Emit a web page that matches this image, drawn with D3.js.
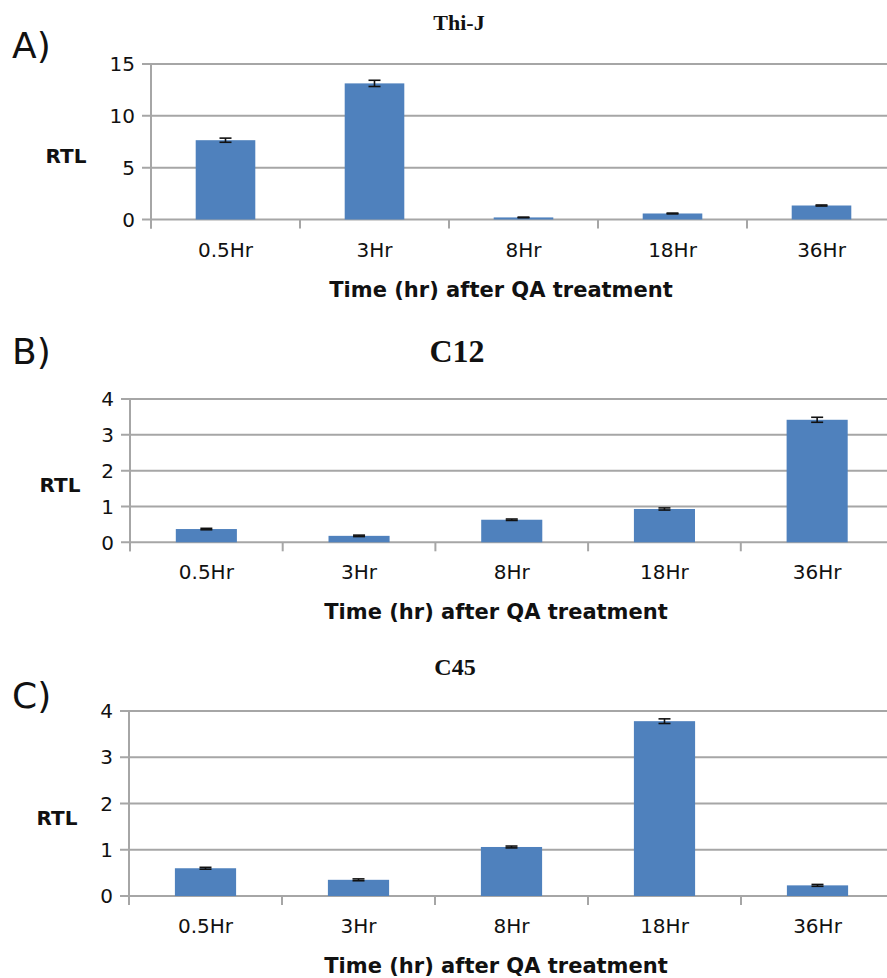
<!DOCTYPE html>
<html lang="en">
<head>
    <meta charset="UTF-8">
    <title>RTL after QA treatment</title>
    <script src="https://d3js.org/d3.v7.min.js"></script>
    <style>
        body { margin: 0; background: #fff; }
        svg { display: block; }
        .tick-label { font-family: "DejaVu Sans", sans-serif; font-size: 20px; fill: #111; }
        .axis-title { font-family: "DejaVu Sans", sans-serif; font-weight: bold; font-size: 21px; fill: #111; }
        .panel-label { font-family: "DejaVu Sans", sans-serif; font-size: 36px; fill: #111; }
        .chart-title { font-family: "Liberation Serif", "Times New Roman", serif; font-weight: bold; fill: #111; }
    </style>
</head>
<body>
    <svg width="887" height="978"></svg>
    <script>
        const categories = ['0.5Hr', '3Hr', '8Hr', '18Hr', '36Hr'];

        const thijValues = [7.65, 13.13, 0.2, 0.58, 1.35];
        const thijErrors = [0.2, 0.3, 0.03, 0.04, 0.05];
        const thijTicks = [0, 5, 10, 15];

        const c12Values = [0.37, 0.18, 0.63, 0.93, 3.42];
        const c12Errors = [0.02, 0.02, 0.02, 0.03, 0.07];
        const c12Ticks = [0, 1, 2, 3, 4];

        const c45Values = [0.6, 0.35, 1.06, 3.78, 0.23];
        const c45Errors = [0.02, 0.02, 0.02, 0.05, 0.02];
        const c45Ticks = [0, 1, 2, 3, 4];

        const xTitle = 'Time (hr) after QA treatment';

        const panels = [
            { label: 'A)', labelY: 58, title: 'Thi-J', titleSize: 22, titleX: 459, titleY: 30,
              values: thijValues, errors: thijErrors, ticks: thijTicks,
              left: 151, right: 896, top: 64, bottom: 219.5,
              rtlX: 66, rtlY: 163, xTitleX: 501 },
            { label: 'B)', labelY: 364, title: 'C12', titleSize: 32, titleX: 457, titleY: 362,
              values: c12Values, errors: c12Errors, ticks: c12Ticks,
              left: 130, right: 893.5, top: 399, bottom: 542.3,
              rtlX: 60, rtlY: 492, xTitleX: 496 },
            { label: 'C)', labelY: 708, title: 'C45', titleSize: 24, titleX: 455, titleY: 675,
              values: c45Values, errors: c45Errors, ticks: c45Ticks,
              left: 129, right: 894, top: 711, bottom: 896,
              rtlX: 57, rtlY: 825, xTitleX: 496 }
        ];

        const svg = d3.select("svg");
        const gridColor = "#a6a6a6";
        const barColor = "#4f81bd";

        panels.forEach(p => {
            const g = svg.append("g");
            const yMax = p.ticks[p.ticks.length - 1];

            const x = d3.scaleBand().domain(categories).range([p.left, p.right])
                .paddingInner(0.6).paddingOuter(0.3);
            const y = d3.scaleLinear().domain([0, yMax]).range([p.bottom, p.top]);

            // gridlines
            g.selectAll(".grid").data(p.ticks).enter().append("line")
                .attr("x1", p.left - 9).attr("x2", p.right)
                .attr("y1", d => y(d)).attr("y2", d => y(d))
                .attr("stroke", gridColor).attr("stroke-width", 2);

            // y axis line
            g.append("line")
                .attr("x1", p.left).attr("x2", p.left)
                .attr("y1", p.top).attr("y2", p.bottom + 9)
                .attr("stroke", gridColor).attr("stroke-width", 2);

            // category separator ticks
            const step = x.step();
            g.selectAll(".xtick").data(d3.range(categories.length + 1)).enter().append("line")
                .attr("x1", i => p.left + i * step).attr("x2", i => p.left + i * step)
                .attr("y1", p.bottom).attr("y2", p.bottom + 9)
                .attr("stroke", gridColor).attr("stroke-width", 2);

            // y tick labels
            g.selectAll(".ylab").data(p.ticks).enter().append("text")
                .attr("class", "tick-label")
                .attr("x", p.left - 16).attr("y", d => y(d))
                .attr("dy", "0.36em").attr("text-anchor", "end")
                .text(d => d);

            // bars
            g.selectAll(".bar").data(p.values).enter().append("rect")
                .attr("x", (d, i) => x(categories[i]))
                .attr("width", x.bandwidth())
                .attr("y", d => y(d))
                .attr("height", d => y(0) - y(d))
                .attr("fill", barColor);

            // error bars
            const cap = 6;
            p.values.forEach((v, i) => {
                const cx = x(categories[i]) + x.bandwidth() / 2;
                const e = p.errors[i];
                const eg = g.append("g").attr("stroke", "#111").attr("stroke-width", 1.6);
                eg.append("line").attr("x1", cx).attr("x2", cx).attr("y1", y(v + e)).attr("y2", y(v - e));
                eg.append("line").attr("x1", cx - cap).attr("x2", cx + cap).attr("y1", y(v + e)).attr("y2", y(v + e));
                eg.append("line").attr("x1", cx - cap).attr("x2", cx + cap).attr("y1", y(v - e)).attr("y2", y(v - e));
            });

            // category labels
            g.selectAll(".xlab").data(categories).enter().append("text")
                .attr("class", "tick-label")
                .attr("x", d => x(d) + x.bandwidth() / 2)
                .attr("y", p.bottom + 37)
                .attr("text-anchor", "middle")
                .text(d => d);

            // axis titles
            g.append("text").attr("class", "axis-title")
                .attr("x", p.xTitleX).attr("y", p.bottom + 77)
                .attr("text-anchor", "middle").text(xTitle);
            g.append("text").attr("class", "axis-title")
                .attr("x", p.rtlX).attr("y", p.rtlY)
                .attr("text-anchor", "middle").style("font-size", "20px").text("RTL");

            // chart title and panel letter
            g.append("text").attr("class", "chart-title")
                .attr("x", p.titleX).attr("y", p.titleY)
                .attr("text-anchor", "middle").style("font-size", p.titleSize + "px")
                .text(p.title);
            g.append("text").attr("class", "panel-label")
                .attr("x", 12).attr("y", p.labelY).text(p.label);
        });
    </script>
</body>
</html>
